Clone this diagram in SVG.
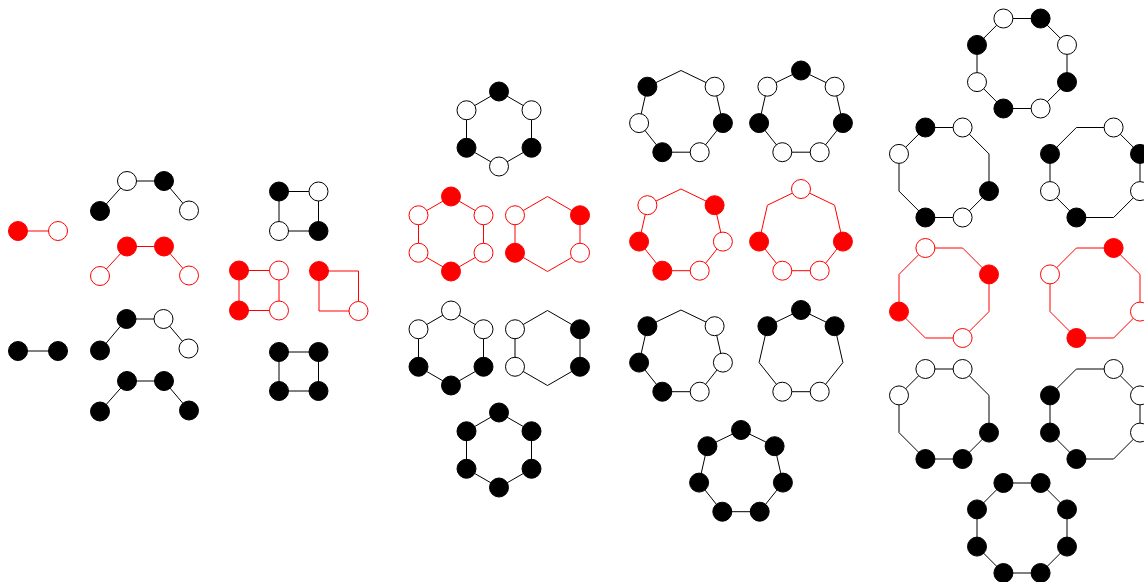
<svg xmlns="http://www.w3.org/2000/svg" width="1144" height="582" viewBox="0 0 1144 582">
<style>
.e{fill:none;stroke:#000;stroke-width:1}
.re{fill:none;stroke:#f00;stroke-width:1}
circle{stroke-width:1}
.b{fill:#000;stroke:#000}
.w{fill:#fff;stroke:#000}
.rf{fill:#f00;stroke:#f00}
.rw{fill:#fff;stroke:#f00}
</style>
<rect width="1144" height="582" fill="#fff"/>
<g id="connectors">
<line class="re" x1="18" y1="231" x2="58" y2="231"/>
<line class="e" x1="18" y1="351" x2="58" y2="351"/>
<polyline class="e" points="100,211 127,181 164,181 189,210.5"/>
<polyline class="re" points="100,276 127,246.5 164,246.5 189,275.5"/>
<polyline class="e" points="100,350.5 126.5,319 163.5,319 188.5,348.5"/>
<polyline class="e" points="100,411.5 127,381 164,381 189,410.5"/>
<polygon class="e" points="279,191.5 318.5,191.5 318.5,231 279,231"/>
<polygon class="re" points="239,270.5 279,270.5 279,310.5 239,310.5"/>
<polygon class="re" points="319,271 358.5,271 358.5,311 319,311"/>
<polygon class="e" points="279,352 318.5,352 318.5,391 279,391"/>
<polygon class="e" points="499,91.5 531.5,110.25 531.5,147.75 499,166.5 466.5,147.75 466.5,110.25"/>
<polygon class="re" points="451,196.5 483.5,215.25 483.5,252.75 451,271.5 418.5,252.75 418.5,215.25"/>
<polygon class="re" points="547.5,196.5 580,215.25 580,252.75 547.5,271.5 515,252.75 515,215.25"/>
<polygon class="e" points="451,310.5 483.5,329.25 483.5,366.75 451,385.5 418.5,366.75 418.5,329.25"/>
<polygon class="e" points="547.5,310.5 580,329.25 580,366.75 547.5,385.5 515,366.75 515,329.25"/>
<polygon class="e" points="499,412.5 531.5,431.25 531.5,468.75 499,487.5 466.5,468.75 466.5,431.25"/>
<polygon class="e" points="681,70.5 714.6,86.7 722.9,123.1 699.7,152.2 662.3,152.2 639.1,123.1 647.4,86.7"/>
<polygon class="e" points="801,70.5 834.6,86.7 842.9,123.1 819.7,152.2 782.3,152.2 759.1,123.1 767.4,86.7"/>
<polygon class="re" points="681,189 714.6,205.2 722.9,241.6 699.7,270.7 662.3,270.7 639.1,241.6 647.4,205.2"/>
<polygon class="re" points="801,189 834.6,205.2 842.9,241.6 819.7,270.7 782.3,270.7 759.1,241.6 767.4,205.2"/>
<polygon class="e" points="681,310 714.6,326.2 722.9,362.6 699.7,391.7 662.3,391.7 639.1,362.6 647.4,326.2"/>
<polygon class="e" points="801,310 834.6,326.2 842.9,362.6 819.7,391.7 782.3,391.7 759.1,362.6 767.4,326.2"/>
<polygon class="e" points="741,430 774.6,446.2 782.9,482.6 759.7,511.7 722.3,511.7 699.1,482.6 707.4,446.2"/>
<polygon class="e" points="1003.4,18.5 1040.6,18.5 1067,44.9 1067,82.1 1040.6,108.5 1003.4,108.5 977,82.1 977,44.9"/>
<polygon class="e" points="925.4,127.5 962.6,127.5 989,153.9 989,191.1 962.6,217.5 925.4,217.5 899,191.1 899,153.9"/>
<polygon class="e" points="1076.4,127.5 1113.6,127.5 1140,153.9 1140,191.1 1113.6,217.5 1076.4,217.5 1050,191.1 1050,153.9"/>
<polygon class="re" points="925.4,248 962.6,248 989,274.4 989,311.6 962.6,338 925.4,338 899,311.6 899,274.4"/>
<polygon class="re" points="1076.4,248 1113.6,248 1140,274.4 1140,311.6 1113.6,338 1076.4,338 1050,311.6 1050,274.4"/>
<polygon class="e" points="925.4,369 962.6,369 989,395.4 989,432.6 962.6,459 925.4,459 899,432.6 899,395.4"/>
<polygon class="e" points="1076.4,369 1113.6,369 1140,395.4 1140,432.6 1113.6,459 1076.4,459 1050,432.6 1050,395.4"/>
<polygon class="e" points="1003.4,483 1040.6,483 1067,509.4 1067,546.6 1040.6,573 1003.4,573 977,546.6 977,509.4"/>
</g>
<g id="pair-red">
<g id="pr-1"><circle class="rf" cx="18" cy="231" r="9.5"/></g>
<g id="pr-2"><circle class="rw" cx="58" cy="231" r="9.5"/></g>
</g>
<g id="pair-black">
<g id="pb-1"><circle class="b" cx="18" cy="351" r="9.5"/></g>
<g id="pb-2"><circle class="b" cx="58" cy="351" r="9.5"/></g>
</g>
<g id="path1">
<g id="p1-1"><circle class="b" cx="100" cy="211" r="9.5"/></g>
<g id="p1-2"><circle class="w" cx="127" cy="181" r="9.5"/></g>
<g id="p1-3"><circle class="b" cx="164" cy="181" r="9.5"/></g>
<g id="p1-4"><circle class="w" cx="189" cy="210.5" r="9.5"/></g>
</g>
<g id="path2">
<g id="p2-1"><circle class="rw" cx="100" cy="276" r="9.5"/></g>
<g id="p2-2"><circle class="rf" cx="127" cy="246.5" r="9.5"/></g>
<g id="p2-3"><circle class="rf" cx="164" cy="246.5" r="9.5"/></g>
<g id="p2-4"><circle class="rw" cx="189" cy="275.5" r="9.5"/></g>
</g>
<g id="path3">
<g id="p3-1"><circle class="b" cx="100" cy="350.5" r="9.5"/></g>
<g id="p3-2"><circle class="b" cx="126.5" cy="319" r="9.5"/></g>
<g id="p3-3"><circle class="w" cx="163.5" cy="319" r="9.5"/></g>
<g id="p3-4"><circle class="w" cx="188.5" cy="348.5" r="9.5"/></g>
</g>
<g id="path4">
<g id="p4-1"><circle class="b" cx="100" cy="411.5" r="9.5"/></g>
<g id="p4-2"><circle class="b" cx="127" cy="381" r="9.5"/></g>
<g id="p4-3"><circle class="b" cx="164" cy="381" r="9.5"/></g>
<g id="p4-4"><circle class="b" cx="189" cy="410.5" r="9.5"/></g>
</g>
<g id="sq1">
<g id="s1-1"><circle class="b" cx="279" cy="191.5" r="9.5"/></g>
<g id="s1-2"><circle class="w" cx="318.5" cy="191.5" r="9.5"/></g>
<g id="s1-3"><circle class="w" cx="279" cy="231" r="9.5"/></g>
<g id="s1-4"><circle class="b" cx="318.5" cy="231" r="9.5"/></g>
</g>
<g id="sq2">
<g id="s2-1"><circle class="rf" cx="239" cy="270.5" r="9.5"/></g>
<g id="s2-2"><circle class="rw" cx="279" cy="270.5" r="9.5"/></g>
<g id="s2-3"><circle class="rf" cx="239" cy="310.5" r="9.5"/></g>
<g id="s2-4"><circle class="rw" cx="279" cy="310.5" r="9.5"/></g>
</g>
<g id="sq3">
<g id="s3-1"><circle class="rf" cx="319" cy="271" r="9.5"/></g>
<g id="s3-2"><circle class="rw" cx="358.5" cy="311" r="9.5"/></g>
</g>
<g id="sq4">
<g id="s4-1"><circle class="b" cx="279" cy="352" r="9.5"/></g>
<g id="s4-2"><circle class="b" cx="318.5" cy="352" r="9.5"/></g>
<g id="s4-3"><circle class="b" cx="279" cy="391" r="9.5"/></g>
<g id="s4-4"><circle class="b" cx="318.5" cy="391" r="9.5"/></g>
</g>
<g id="hex1">
<g id="h1-1"><circle class="b" cx="499" cy="91.5" r="9.5"/></g>
<g id="h1-2"><circle class="w" cx="531.5" cy="110.25" r="9.5"/></g>
<g id="h1-3"><circle class="b" cx="531.5" cy="147.75" r="9.5"/></g>
<g id="h1-4"><circle class="w" cx="499" cy="166.5" r="9.5"/></g>
<g id="h1-5"><circle class="b" cx="466.5" cy="147.75" r="9.5"/></g>
<g id="h1-6"><circle class="w" cx="466.5" cy="110.25" r="9.5"/></g>
</g>
<g id="hex2">
<g id="h2-1"><circle class="rf" cx="451" cy="196.5" r="9.5"/></g>
<g id="h2-2"><circle class="rw" cx="483.5" cy="215.25" r="9.5"/></g>
<g id="h2-3"><circle class="rw" cx="483.5" cy="252.75" r="9.5"/></g>
<g id="h2-4"><circle class="rf" cx="451" cy="271.5" r="9.5"/></g>
<g id="h2-5"><circle class="rw" cx="418.5" cy="252.75" r="9.5"/></g>
<g id="h2-6"><circle class="rw" cx="418.5" cy="215.25" r="9.5"/></g>
</g>
<g id="hex3">
<g id="h3-2"><circle class="rf" cx="580" cy="215.25" r="9.5"/></g>
<g id="h3-3"><circle class="rw" cx="580" cy="252.75" r="9.5"/></g>
<g id="h3-5"><circle class="rf" cx="515" cy="252.75" r="9.5"/></g>
<g id="h3-6"><circle class="rw" cx="515" cy="215.25" r="9.5"/></g>
</g>
<g id="hex4">
<g id="h4-1"><circle class="w" cx="451" cy="310.5" r="9.5"/></g>
<g id="h4-2"><circle class="w" cx="483.5" cy="329.25" r="9.5"/></g>
<g id="h4-3"><circle class="b" cx="483.5" cy="366.75" r="9.5"/></g>
<g id="h4-4"><circle class="b" cx="451" cy="385.5" r="9.5"/></g>
<g id="h4-5"><circle class="b" cx="418.5" cy="366.75" r="9.5"/></g>
<g id="h4-6"><circle class="w" cx="418.5" cy="329.25" r="9.5"/></g>
</g>
<g id="hex5">
<g id="h5-2"><circle class="b" cx="580" cy="329.25" r="9.5"/></g>
<g id="h5-3"><circle class="b" cx="580" cy="366.75" r="9.5"/></g>
<g id="h5-5"><circle class="w" cx="515" cy="366.75" r="9.5"/></g>
<g id="h5-6"><circle class="w" cx="515" cy="329.25" r="9.5"/></g>
</g>
<g id="hex6">
<g id="h6-1"><circle class="b" cx="499" cy="412.5" r="9.5"/></g>
<g id="h6-2"><circle class="b" cx="531.5" cy="431.25" r="9.5"/></g>
<g id="h6-3"><circle class="b" cx="531.5" cy="468.75" r="9.5"/></g>
<g id="h6-4"><circle class="b" cx="499" cy="487.5" r="9.5"/></g>
<g id="h6-5"><circle class="b" cx="466.5" cy="468.75" r="9.5"/></g>
<g id="h6-6"><circle class="b" cx="466.5" cy="431.25" r="9.5"/></g>
</g>
<g id="hep1">
<g id="t1-1"><circle class="w" cx="714.6" cy="86.7" r="9.5"/></g>
<g id="t1-2"><circle class="b" cx="722.9" cy="123.1" r="9.5"/></g>
<g id="t1-3"><circle class="w" cx="699.7" cy="152.2" r="9.5"/></g>
<g id="t1-4"><circle class="b" cx="662.3" cy="152.2" r="9.5"/></g>
<g id="t1-5"><circle class="w" cx="639.1" cy="123.1" r="9.5"/></g>
<g id="t1-6"><circle class="b" cx="647.4" cy="86.7" r="9.5"/></g>
</g>
<g id="hep2">
<g id="t2-0"><circle class="b" cx="801" cy="70.5" r="9.5"/></g>
<g id="t2-1"><circle class="w" cx="834.6" cy="86.7" r="9.5"/></g>
<g id="t2-2"><circle class="b" cx="842.9" cy="123.1" r="9.5"/></g>
<g id="t2-3"><circle class="w" cx="819.7" cy="152.2" r="9.5"/></g>
<g id="t2-4"><circle class="w" cx="782.3" cy="152.2" r="9.5"/></g>
<g id="t2-5"><circle class="b" cx="759.1" cy="123.1" r="9.5"/></g>
<g id="t2-6"><circle class="w" cx="767.4" cy="86.7" r="9.5"/></g>
</g>
<g id="hep3">
<g id="t3-1"><circle class="rf" cx="714.6" cy="205.2" r="9.5"/></g>
<g id="t3-2"><circle class="rw" cx="722.9" cy="241.6" r="9.5"/></g>
<g id="t3-3"><circle class="rw" cx="699.7" cy="270.7" r="9.5"/></g>
<g id="t3-4"><circle class="rf" cx="662.3" cy="270.7" r="9.5"/></g>
<g id="t3-5"><circle class="rf" cx="639.1" cy="241.6" r="9.5"/></g>
<g id="t3-6"><circle class="rw" cx="647.4" cy="205.2" r="9.5"/></g>
</g>
<g id="hep4">
<g id="t4-0"><circle class="rw" cx="801" cy="189" r="9.5"/></g>
<g id="t4-2"><circle class="rf" cx="842.9" cy="241.6" r="9.5"/></g>
<g id="t4-3"><circle class="rw" cx="819.7" cy="270.7" r="9.5"/></g>
<g id="t4-4"><circle class="rw" cx="782.3" cy="270.7" r="9.5"/></g>
<g id="t4-5"><circle class="rf" cx="759.1" cy="241.6" r="9.5"/></g>
</g>
<g id="hep5">
<g id="t5-1"><circle class="w" cx="714.6" cy="326.2" r="9.5"/></g>
<g id="t5-2"><circle class="w" cx="722.9" cy="362.6" r="9.5"/></g>
<g id="t5-3"><circle class="w" cx="699.7" cy="391.7" r="9.5"/></g>
<g id="t5-4"><circle class="b" cx="662.3" cy="391.7" r="9.5"/></g>
<g id="t5-5"><circle class="b" cx="639.1" cy="362.6" r="9.5"/></g>
<g id="t5-6"><circle class="b" cx="647.4" cy="326.2" r="9.5"/></g>
</g>
<g id="hep6">
<g id="t6-0"><circle class="b" cx="801" cy="310" r="9.5"/></g>
<g id="t6-1"><circle class="b" cx="834.6" cy="326.2" r="9.5"/></g>
<g id="t6-3"><circle class="w" cx="819.7" cy="391.7" r="9.5"/></g>
<g id="t6-4"><circle class="w" cx="782.3" cy="391.7" r="9.5"/></g>
<g id="t6-6"><circle class="b" cx="767.4" cy="326.2" r="9.5"/></g>
</g>
<g id="hep7">
<g id="t7-0"><circle class="b" cx="741" cy="430" r="9.5"/></g>
<g id="t7-1"><circle class="b" cx="774.6" cy="446.2" r="9.5"/></g>
<g id="t7-2"><circle class="b" cx="782.9" cy="482.6" r="9.5"/></g>
<g id="t7-3"><circle class="b" cx="759.7" cy="511.7" r="9.5"/></g>
<g id="t7-4"><circle class="b" cx="722.3" cy="511.7" r="9.5"/></g>
<g id="t7-5"><circle class="b" cx="699.1" cy="482.6" r="9.5"/></g>
<g id="t7-6"><circle class="b" cx="707.4" cy="446.2" r="9.5"/></g>
</g>
<g id="oct1">
<g id="o1-1"><circle class="w" cx="1003.4" cy="18.5" r="9.5"/></g>
<g id="o1-2"><circle class="b" cx="1040.6" cy="18.5" r="9.5"/></g>
<g id="o1-3"><circle class="w" cx="1067" cy="44.9" r="9.5"/></g>
<g id="o1-4"><circle class="b" cx="1067" cy="82.1" r="9.5"/></g>
<g id="o1-5"><circle class="w" cx="1040.6" cy="108.5" r="9.5"/></g>
<g id="o1-6"><circle class="b" cx="1003.4" cy="108.5" r="9.5"/></g>
<g id="o1-7"><circle class="w" cx="977" cy="82.1" r="9.5"/></g>
<g id="o1-8"><circle class="b" cx="977" cy="44.9" r="9.5"/></g>
</g>
<g id="oct2">
<g id="o2-1"><circle class="b" cx="925.4" cy="127.5" r="9.5"/></g>
<g id="o2-2"><circle class="w" cx="962.6" cy="127.5" r="9.5"/></g>
<g id="o2-4"><circle class="b" cx="989" cy="191.1" r="9.5"/></g>
<g id="o2-5"><circle class="w" cx="962.6" cy="217.5" r="9.5"/></g>
<g id="o2-6"><circle class="b" cx="925.4" cy="217.5" r="9.5"/></g>
<g id="o2-8"><circle class="w" cx="899" cy="153.9" r="9.5"/></g>
</g>
<g id="oct3">
<g id="o3-2"><circle class="w" cx="1113.6" cy="127.5" r="9.5"/></g>
<g id="o3-3"><circle class="b" cx="1140" cy="153.9" r="9.5"/></g>
<g id="o3-4"><circle class="w" cx="1140" cy="191.1" r="9.5"/></g>
<g id="o3-6"><circle class="b" cx="1076.4" cy="217.5" r="9.5"/></g>
<g id="o3-7"><circle class="w" cx="1050" cy="191.1" r="9.5"/></g>
<g id="o3-8"><circle class="b" cx="1050" cy="153.9" r="9.5"/></g>
</g>
<g id="oct4">
<g id="o4-1"><circle class="rw" cx="925.4" cy="248" r="9.5"/></g>
<g id="o4-3"><circle class="rf" cx="989" cy="274.4" r="9.5"/></g>
<g id="o4-5"><circle class="rw" cx="962.6" cy="338" r="9.5"/></g>
<g id="o4-7"><circle class="rf" cx="899" cy="311.6" r="9.5"/></g>
</g>
<g id="oct5">
<g id="o5-2"><circle class="rf" cx="1113.6" cy="248" r="9.5"/></g>
<g id="o5-4"><circle class="rw" cx="1140" cy="311.6" r="9.5"/></g>
<g id="o5-6"><circle class="rf" cx="1076.4" cy="338" r="9.5"/></g>
<g id="o5-8"><circle class="rw" cx="1050" cy="274.4" r="9.5"/></g>
</g>
<g id="oct6">
<g id="o6-1"><circle class="w" cx="925.4" cy="369" r="9.5"/></g>
<g id="o6-2"><circle class="w" cx="962.6" cy="369" r="9.5"/></g>
<g id="o6-4"><circle class="b" cx="989" cy="432.6" r="9.5"/></g>
<g id="o6-5"><circle class="b" cx="962.6" cy="459" r="9.5"/></g>
<g id="o6-6"><circle class="b" cx="925.4" cy="459" r="9.5"/></g>
<g id="o6-8"><circle class="w" cx="899" cy="395.4" r="9.5"/></g>
</g>
<g id="oct7">
<g id="o7-2"><circle class="w" cx="1113.6" cy="369" r="9.5"/></g>
<g id="o7-3"><circle class="w" cx="1140" cy="395.4" r="9.5"/></g>
<g id="o7-4"><circle class="w" cx="1140" cy="432.6" r="9.5"/></g>
<g id="o7-6"><circle class="b" cx="1076.4" cy="459" r="9.5"/></g>
<g id="o7-7"><circle class="b" cx="1050" cy="432.6" r="9.5"/></g>
<g id="o7-8"><circle class="b" cx="1050" cy="395.4" r="9.5"/></g>
</g>
<g id="oct8">
<g id="o8-1"><circle class="b" cx="1003.4" cy="483" r="9.5"/></g>
<g id="o8-2"><circle class="b" cx="1040.6" cy="483" r="9.5"/></g>
<g id="o8-3"><circle class="b" cx="1067" cy="509.4" r="9.5"/></g>
<g id="o8-4"><circle class="b" cx="1067" cy="546.6" r="9.5"/></g>
<g id="o8-5"><circle class="b" cx="1040.6" cy="573" r="9.5"/></g>
<g id="o8-6"><circle class="b" cx="1003.4" cy="573" r="9.5"/></g>
<g id="o8-7"><circle class="b" cx="977" cy="546.6" r="9.5"/></g>
<g id="o8-8"><circle class="b" cx="977" cy="509.4" r="9.5"/></g>
</g>
</svg>
